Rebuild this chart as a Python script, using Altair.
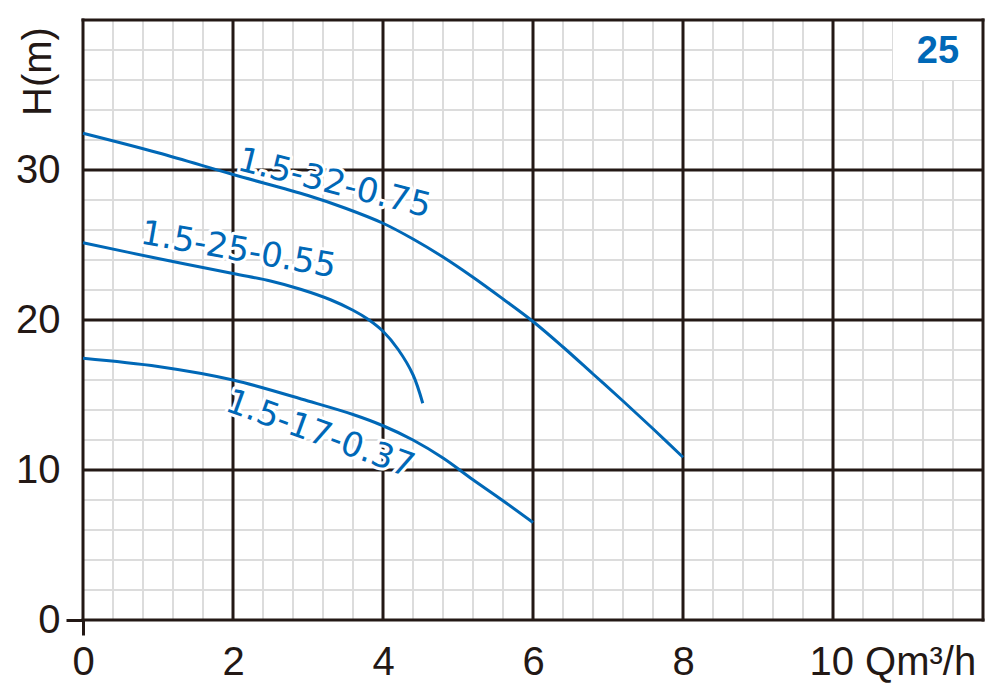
import altair as alt
import pandas as pd

BLUE = "#0068b7"
INK = "#231815"
MINOR = "#dcdcdc"
FONT = "Liberation Sans"
LABEL_FONT = "DejaVu Sans"

# axis ticks / labels
x_ticks = [0, 2, 4, 6, 8, 10]
y_ticks = [0, 10, 20, 30]
x_unit = "Qm³/h"
y_title = "H(m)"
x_domain = [0, 12]
y_domain = [0, 40]

# grid lines
x_minor = [0.4, 0.8, 1.2, 1.6, 2.4, 2.8, 3.2, 3.6, 4.4, 4.8, 5.2, 5.6,
           6.4, 6.8, 7.2, 7.6, 8.4, 8.8, 9.2, 9.6, 10.4, 10.8, 11.2, 11.6]
y_minor = [2, 4, 6, 8, 12, 14, 16, 18, 22, 24, 26, 28, 32, 34, 36, 38]
x_major = [2, 4, 6, 8, 10]
y_major = [10, 20, 30]
x_border = [0, 12]
y_border = [0, 40]

# pump curves (Q m3/h, H m)
c1_name = "1.5-32-0.75"
c1_q = [0, 1, 2, 3, 3.5, 4, 4.4, 4.8, 5.2, 5.6, 6, 6.4, 6.8, 7.2, 7.6, 8]
c1_h = [32.45, 31.15, 29.7, 28.3, 27.45, 26.45, 25.4, 24.2, 22.85, 21.4, 19.9,
        18.2, 16.4, 14.6, 12.75, 10.85]
c2_name = "1.5-25-0.55"
c2_q = [0, 1, 2, 2.5, 2.9, 3.3, 3.6, 3.8, 4, 4.2, 4.4, 4.53]
c2_h = [25.15, 24.1, 23.1, 22.6, 22.05, 21.35, 20.65, 20.05, 19.25, 18.05, 16.35, 14.45]
c3_name = "1.5-17-0.37"
c3_q = [0, 1, 2, 3, 3.6, 4, 4.4, 4.8, 5.2, 5.6, 6]
c3_h = [17.45, 16.9, 16.0, 14.6, 13.7, 12.95, 12.0, 10.8, 9.35, 7.95, 6.5]

# curve labels
lab_text = [c1_name, c2_name, c3_name]
lab_q = [3.35, 2.07, 3.16]
lab_h = [29.07, 24.63, 12.36]
lab_angle = [14, 10, 20]

# model badge
badge_text = "25"
badge_q = 11.4
badge_h = 37.87
badge_box = dict(x=10.8, x2=12, y=36, y2=40)

xs = alt.Scale(domain=x_domain, nice=False, zero=False)
ys = alt.Scale(domain=y_domain, nice=False, zero=False)

tick_only_zero = {"condition": {"test": "datum.value == 0", "value": 1}, "value": 0}

xaxis = alt.Axis(
    values=x_ticks, title=None, grid=False, domain=False,
    ticks=True, tickSize=15, tickWidth=3, tickColor=INK, tickOpacity=tick_only_zero,
    labelExpr=f"datum.value == 10 ? '10 {x_unit}' : datum.label",
    labelAlign={"condition": {"test": "datum.value == 10", "value": "left"}, "value": "center"},
    labelOffset={"condition": {"test": "datum.value == 10", "value": -24}, "value": 0},
    labelFont=FONT, labelFontSize=40, labelColor=INK, labelPadding=7,
    labelFlush=False, labelOverlap=False,
)
yaxis = alt.Axis(
    values=y_ticks, title=y_title, grid=False, domain=False,
    ticks=True, tickSize=17, tickWidth=3, tickColor=INK, tickOpacity=tick_only_zero,
    labelFont=FONT, labelFontSize=40, labelColor=INK, labelPadding=6,
    labelFlush=False, labelOverlap=False,
    titleFont=FONT, titleFontSize=40, titleFontWeight="normal", titleColor=INK,
    titleAngle=270, titleX=-45, titleY=51, titleAlign="center", titleBaseline="middle",
)


def X(f):
    return alt.X(f, type="quantitative", scale=xs, axis=xaxis)


def Y(f):
    return alt.Y(f, type="quantitative", scale=ys, axis=yaxis)


df_xminor = pd.DataFrame({"x": x_minor})
df_yminor = pd.DataFrame({"y": y_minor})
df_xmajor = pd.DataFrame({"x": x_major})
df_ymajor = pd.DataFrame({"y": y_major})
df_xborder = pd.DataFrame({"x": x_border})
df_yborder = pd.DataFrame({"y": y_border})

rows = []
for name, qs, hs in [(c1_name, c1_q, c1_h), (c2_name, c2_q, c2_h), (c3_name, c3_q, c3_h)]:
    for i, (q, h) in enumerate(zip(qs, hs)):
        rows.append({"series": name, "x": q, "y": h, "i": i})
df_curves = pd.DataFrame(rows)
df_labels = pd.DataFrame({"t": lab_text, "x": lab_q, "y": lab_h, "a": lab_angle})
df_badge = pd.DataFrame({"t": [badge_text], "x": [badge_q], "y": [badge_h]})
df_box = pd.DataFrame([badge_box])

minor_v = alt.Chart(df_xminor).mark_rule(color=MINOR, strokeWidth=2).encode(x=X("x"))
minor_h = alt.Chart(df_yminor).mark_rule(color=MINOR, strokeWidth=2).encode(y=Y("y"))
box = alt.Chart(df_box).mark_rect(color="white").encode(x=X("x"), x2="x2", y=Y("y"), y2="y2")
major_v = alt.Chart(df_xmajor).mark_rule(color=INK, strokeWidth=3).encode(x=X("x"))
major_h = alt.Chart(df_ymajor).mark_rule(color=INK, strokeWidth=3).encode(y=Y("y"))
border_v = alt.Chart(df_xborder).mark_rule(color=INK, strokeWidth=3, strokeCap="square").encode(x=X("x"))
border_h = alt.Chart(df_yborder).mark_rule(color=INK, strokeWidth=3, strokeCap="square").encode(y=Y("y"))

curves = alt.Chart(df_curves).mark_line(
    color=BLUE, strokeWidth=3, interpolate="catmull-rom"
).encode(x=X("x"), y=Y("y"), detail="series:N", order="i:Q")

halo = alt.Chart(df_labels).mark_text(
    font=LABEL_FONT, fontSize=34, color="white", stroke="white", strokeWidth=6,
    strokeJoin="round", align="center", baseline="middle",
).encode(x=X("x"), y=Y("y"), text="t:N", angle=alt.Angle("a:Q", scale=None))
labels = alt.Chart(df_labels).mark_text(
    font=LABEL_FONT, fontSize=34, color=BLUE, align="center", baseline="middle",
).encode(x=X("x"), y=Y("y"), text="t:N", angle=alt.Angle("a:Q", scale=None))

badge = alt.Chart(df_badge).mark_text(
    font=FONT, fontSize=38, fontWeight="bold", color=BLUE, align="center", baseline="middle",
).encode(x=X("x"), y=Y("y"), text="t:N")

chart = alt.layer(
    minor_v, minor_h, box, major_v, major_h, border_v, border_h,
    curves, halo, labels, badge,
).properties(
    width=900, height=600,
    autosize=alt.AutoSizeParams(type="none"),
    padding={"left": 75, "top": 12, "right": 8, "bottom": 66},
    background="white",
).configure_view(stroke=None)

chart.save("out.html", embed_options={"renderer": "svg", "actions": False})
